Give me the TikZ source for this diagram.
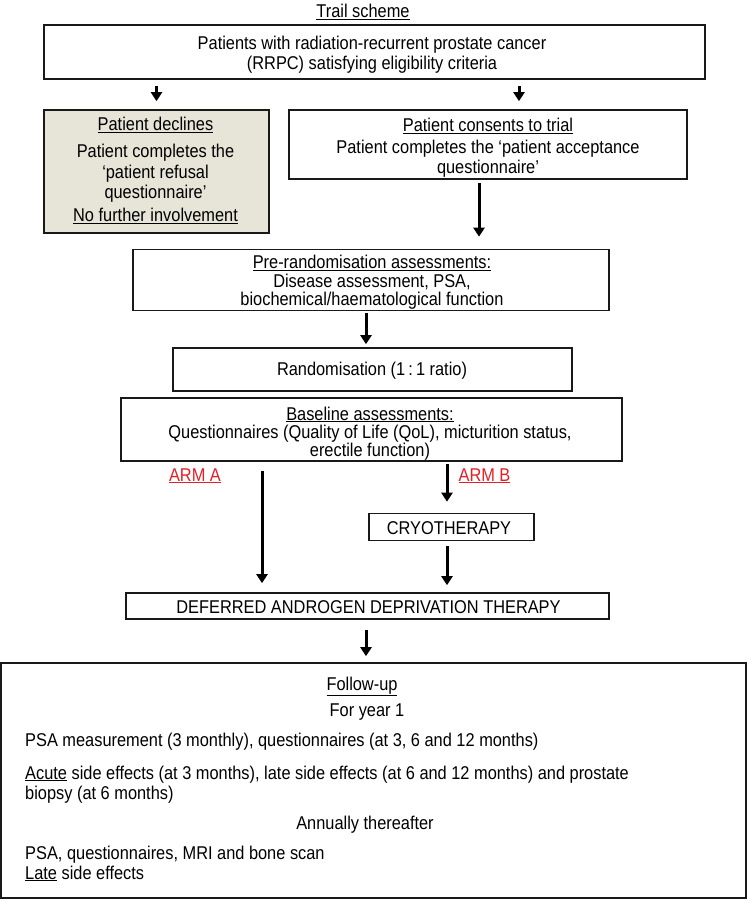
\documentclass[tikz,border=0pt]{standalone}
\usepackage{fontspec}
\setmainfont[FakeStretch=0.885]{Liberation Sans}
\usetikzlibrary{arrows.meta}
\definecolor{beige}{RGB}{231,229,215}
\definecolor{armred}{RGB}{228,32,38}
\begin{document}
\begin{tikzpicture}[x=1pt,y=-1pt,
  font=\fontsize{18.5}{20}\selectfont,
  box/.style={draw=black!90, line width=1.6pt, inner sep=0pt},
  arr/.style={line width=3pt, -{Triangle[length=9pt,width=11pt]}},
  t/.style={inner sep=0pt, anchor=base},
  tl/.style={inner sep=0pt, anchor=base west},
]
\fill[white] (0,0) rectangle (748,901);
\useasboundingbox (0,0) rectangle (748,901);

% title
\node[t] (title) at (363,18) {\underline{Trail scheme}};

% boxes
\node[box, minimum width=661pt, minimum height=54pt] (box1) at (374.5,52) {};
\node[box, fill=beige, minimum width=225pt, minimum height=123pt] (decl) at (156.5,171.5) {};
\node[box, minimum width=398pt, minimum height=69pt] (cons) at (488,144.5) {};
\node[box, minimum width=476pt, minimum height=61pt] (pre) at (371,280) {};
\node[box, minimum width=399pt, minimum height=43pt] (rand) at (372.5,369.5) {};
\node[box, minimum width=501pt, minimum height=63pt] (base) at (371.5,429.5) {};
\node[box, minimum width=165pt, minimum height=27pt] (cryo) at (451.5,527) {};
\node[box, minimum width=483pt, minimum height=26pt] (dadt) at (367.5,606) {};
\node[box, minimum width=745pt, minimum height=235pt] (fu) at (373.5,780.5) {};

% box 1 text
\node[t] (b1a) at (372,50) {Patients with radiation-recurrent prostate cancer};
\node[t] (b1b) at (372,70) {(RRPC) satisfying eligibility criteria};

% declines text
\node[t] (d1) at (155.5,131) {\underline{Patient declines}};
\node[t] (d2) at (155.5,158) {Patient completes the};
\node[t] (d3) at (155.5,179) {‘patient refusal};
\node[t] (d4) at (155.5,199) {questionnaire’};
\node[t] (d5) at (155.5,222) {\underline{No further involvement}};

% consents text
\node[t] (c1) at (488,132) {\underline{Patient consents to trial}};
\node[t] (c2) at (488,154) {Patient completes the ‘patient acceptance};
\node[t] (c3) at (488,174) {questionnaire’};

% pre-randomisation text
\node[t] (p1) at (372,268.5) {\underline{Pre-randomisation assessments:}};
\node[t] (p2) at (372,287) {Disease assessment, PSA,};
\node[t] (p3) at (372,305.5) {biochemical/haematological function};

% randomisation
\node[t] (r1) at (372,375) {Randomisation (1\,:\,1 ratio)};

% baseline
\node[t] (a1) at (370,420) {\underline{Baseline assessments:}};
\node[t] (a2) at (370,438.5) {Questionnaires (Quality of Life (QoL), micturition status,};
\node[t] (a3) at (370,456) {erectile function)};

% arms
\node[t, text=armred] (arma) at (195,481) {\underline{ARM A}};
\node[t, text=armred] (armb) at (484.5,481) {\underline{ARM B}};

\node[t] (cr) at (449,534) {CRYOTHERAPY};
\node[t] (dd) at (368.5,613.5) {DEFERRED ANDROGEN DEPRIVATION THERAPY};

% follow-up text
\node[t] (fuh) at (362,690) {\underline{Follow-up}};
\node[t] (fy1) at (367,716) {For year 1};
\node[tl] (fl1) at (25,746) {PSA measurement (3 monthly), questionnaires (at 3, 6 and 12 months)};
\node[tl] (fl2) at (25,779) {\underline{Acute} side effects (at 3 months), late side effects (at 6 and 12 months) and prostate};
\node[tl] (fl3) at (25,799) {biopsy (at 6 months)};
\node[t] (fan) at (365,829) {Annually thereafter};
\node[tl] (fl4) at (25,859) {PSA, questionnaires, MRI and bone scan};
\node[tl] (fl5) at (25,879) {\underline{Late} side effects};

% arrow x positions
\coordinate (xr) at (519,0);
\coordinate (xc) at (479,0);
\coordinate (xm) at (366,0);
\coordinate (xa) at (262,0);
\coordinate (xb) at (447,0);

\draw[arr, shorten <=6pt, shorten >=8pt] (box1.south -| decl.north) -- (decl.north);
\draw[arr, shorten <=6pt, shorten >=8pt] (box1.south -| xr) -- (cons.north -| xr);
\draw[arr, shorten <=3pt, shorten >=12pt] (cons.south -| xc) -- (pre.north -| xc);
\draw[arr, shorten <=2pt, shorten >=3pt] (pre.south -| xm) -- (rand.north -| xm);
\draw[arr, shorten <=9pt, shorten >=9pt] (base.south -| xa) -- (dadt.north -| xa);
\draw[arr, shorten <=2pt, shorten >=11pt] (base.south -| xb) -- (cryo.north -| xb);
\draw[arr, shorten <=5pt, shorten >=7pt] (cryo.south -| xb) -- (dadt.north -| xb);
\draw[arr, shorten <=10pt, shorten >=6pt] (dadt.south -| xm) -- (fu.north -| xm);
\end{tikzpicture}
\end{document}
